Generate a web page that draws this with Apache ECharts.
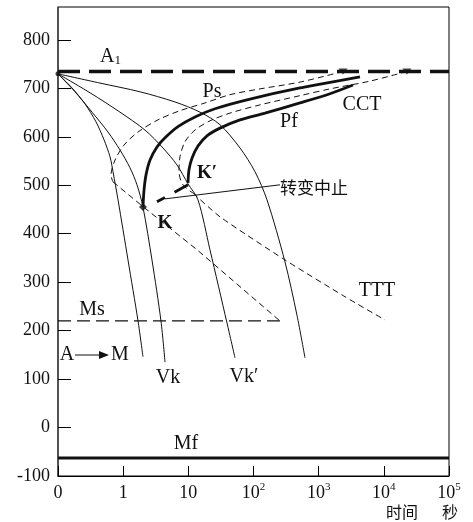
<!DOCTYPE html>
<html><head><meta charset="utf-8">
<script src="https://cdn.jsdelivr.net/npm/echarts@6/dist/echarts.min.js"></script>
<style>html,body{margin:0;padding:0;background:#fff}#c{width:473px;height:522px}</style>
</head><body><div id="c"></div>
<script>
// x = log-time position: 0 -> t=0, 1 -> 1 s, 2 -> 10 s, 3 -> 10^2 s ... 6 -> 10^5 s
const xTickLabels = ['0', '1', '10', '10^2', '10^3', '10^4', '10^5'];
const yTickStep = 100;
const A1 = 735, Ms = 220, Mf = -63;

// cooling curves (thin solid)
const coolA  = [[0,730],[0.215,701],[0.414,668],[0.583,631],[0.706,594],[0.798,559],[0.844,528],[0.921,470],[1.074,346],[1.228,220],[1.304,146]];
const coolVk = [[0,730],[0.261,693],[0.522,651],[0.767,610],[0.951,573],[1.105,536],[1.212,501],[1.304,455],[1.442,346],[1.580,220],[1.642,135]];
const coolVk2= [[0,730],[0.491,691],[0.951,651],[1.335,614],[1.611,577],[1.826,542],[1.995,503],[2.148,470],[2.332,367],[2.593,216],[2.716,144]];
const coolD  = [[0,730],[0.644,711],[1.258,693],[1.795,672],[2.179,651],[2.486,625],[2.793,577],[3.023,528],[3.207,470],[3.483,342],[3.667,232],[3.790,144]];

// CCT curves (thick solid)
const cctPs = [[1.304,455],[1.320,490],[1.350,521],[1.412,552],[1.519,579],[1.642,598],[1.841,621],[2.102,641],[2.409,658],[2.946,678],[3.713,701],[4.634,724]];
const cctPf = [[1.995,505],[2.010,532],[2.056,556],[2.148,581],[2.286,602],[2.486,618],[2.793,635],[3.176,649],[3.713,670],[4.174,689],[4.527,707]];

// TTT curves (thin dashed)
const tttStartUpper  = [[4.373,735],[3.713,713],[3.100,699],[2.639,687],[2.256,670],[1.872,654],[1.534,635],[1.228,610],[1.013,583],[0.875,552],[0.813,521],[0.844,507]];
const tttStartLower  = [[0.844,507],[1.304,456],[2.133,367],[3.406,220]];
const tttFinishUpper = [[5.355,735],[4.787,715],[4.174,699],[3.713,685],[3.100,666],[2.639,649],[2.332,633],[2.102,614],[1.949,590],[1.872,559],[1.857,528],[1.918,501],[2.072,484]];
const tttFinishLower = [[2.072,484],[2.486,435],[3.483,346],[4.404,270],[5.018,222]];

// transformation-stop line and its leader
const stopLine = [[1.519,466],[1.995,501]];
const leader   = [[1.642,472],[3.406,501]];

const F = 'Liberation Serif';
const C = '#111';

function ln(data, w, type, smooth, z) {
  return {type:'line', data:data, symbol:'none', smooth:smooth||false, silent:true, animation:false,
    z: z||3, lineStyle:{width:w, type:type||'solid', color:C, cap:'butt'}};
}
const msEnd = tttStartLower[tttStartLower.length-1][0];

const series = [
  ln([[0,A1],[6,A1]], 3.5, [22,9], false, 4),
  ln([[0,Mf],[6,Mf]], 3, 'solid', false, 4),
  ln([[0,Ms],[msEnd,Ms]], 1.2, [13,6]),
  ln(coolA, 1, 'solid', 0.3),
  ln(coolVk, 1, 'solid', 0.3),
  ln(coolVk2, 1, 'solid', 0.3),
  ln(coolD, 1, 'solid', 0.3),
  ln(cctPs, 2.8, 'solid', 0.3, 5),
  ln(cctPf, 2.8, 'solid', 0.3, 5),
  ln(tttStartUpper, 1, [6,4], 0.3),
  ln(tttStartLower, 1, [6,4], false),
  ln(tttFinishUpper, 1, [6,4], 0.3),
  ln(tttFinishLower, 1, [6,4], 0.2),
  ln(stopLine, 2.8, [9,11,16,11], false, 5),
  ln(leader, 1, 'solid', false),
  {type:'scatter', silent:true, animation:false, z:6, symbol:'diamond', symbolSize:8,
    itemStyle:{color:C}, data:[cctPs[0]]},
  {type:'scatter', silent:true, animation:false, z:6, symbol:'circle', symbolSize:5,
    itemStyle:{color:C}, data:[coolA[0]]},
  {type:'scatter', silent:true, animation:false, z:6, symbol:'triangle', symbolRotate:180, symbolSize:[9,6],
    itemStyle:{color:C}, data:[tttStartUpper[0], tttFinishUpper[0]]}
];

function txt(x, y, text, size, opt) {
  opt = opt || {};
  return {type:'text', x:x, y:y, silent:true, z:10,
    style:Object.assign({text:text, fill:C, font:(opt.weight||'normal')+' '+size+'px '+(opt.family||F),
      align:opt.align||'center', verticalAlign:'middle'}, opt.style||{})};
}

const chart = echarts.init(document.getElementById('c'));
chart.setOption({
  animation:false,
  backgroundColor:'#fff',
  grid:{left:58, right:24, top:7, bottom:46, show:true, borderColor:'#000', borderWidth:1, backgroundColor:'transparent', outerBoundsMode:'none', containLabel:false},
  xAxis:{type:'value', min:0, max:6, interval:1,
    axisLine:{show:true, onZero:false, lineStyle:{color:'#000', width:1}},
    axisTick:{show:true, inside:true, length:10, lineStyle:{color:'#000', width:1}},
    splitLine:{show:false},
    axisLabel:{margin:6, color:C, fontFamily:F, fontSize:18,
      formatter:function(v){ const s = xTickLabels[Math.round(v)] || ''; const p = s.split('^');
        return p.length>1 ? '{b|'+p[0]+'}{s|'+p[1]+'}' : '{b|'+s+'}'; },
      rich:{b:{fontFamily:F, fontSize:18, lineHeight:20, color:C, verticalAlign:'bottom'},
            s:{fontFamily:F, fontSize:11, lineHeight:20, color:C, verticalAlign:'top'}}}},
  yAxis:{type:'value', min:-100, max:868, interval:yTickStep,
    axisLine:{show:true, onZero:false, lineStyle:{color:'#444', width:1.5}},
    axisTick:{show:true, inside:true, length:13, lineStyle:{color:'#000', width:1}},
    splitLine:{show:false},
    axisLabel:{margin:8, color:C, fontFamily:F, fontSize:18, padding:[0,0,8,0], showMaxLabel:false,
      formatter:function(v){ return (Math.round(v) % yTickStep === 0) ? String(v) : ''; }}},
  series:series,
  graphic:[
    txt(100, 57, 'A{s|1}', 20, {align:'left', style:{rich:{s:{fontFamily:F, fontSize:13, fill:C, verticalAlign:'bottom', lineHeight:20}}}}),
    txt(212, 92, 'Ps', 20),
    txt(362, 105, 'CCT', 20),
    txt(289, 122, 'Pf', 20),
    txt(207, 173, 'K\u2032', 19, {weight:'bold'}),
    txt(165, 223, 'K', 19, {weight:'bold'}),
    txt(280, 188, '转变中止', 17, {align:'left', family:'Noto Sans CJK SC'}),
    txt(377, 291, 'TTT', 20),
    txt(92, 310, 'Ms', 20),
    txt(67, 355, 'A', 20),
    {type:'line', silent:true, z:10, shape:{x1:75, y1:355, x2:100, y2:355}, style:{stroke:C, lineWidth:1}},
    {type:'polygon', silent:true, z:10, shape:{points:[[99,351],[109,355],[99,359]]}, style:{fill:C}},
    txt(120, 355, 'M', 20),
    txt(168, 378, 'Vk', 20),
    txt(244, 377, 'Vk\u2032', 20),
    txt(186, 444, 'Mf', 20),
    txt(402, 512, '时间', 16, {family:'Noto Sans CJK SC'}),
    txt(450, 512, '秒', 16, {family:'Noto Sans CJK SC'})
  ]
});
</script></body></html>
